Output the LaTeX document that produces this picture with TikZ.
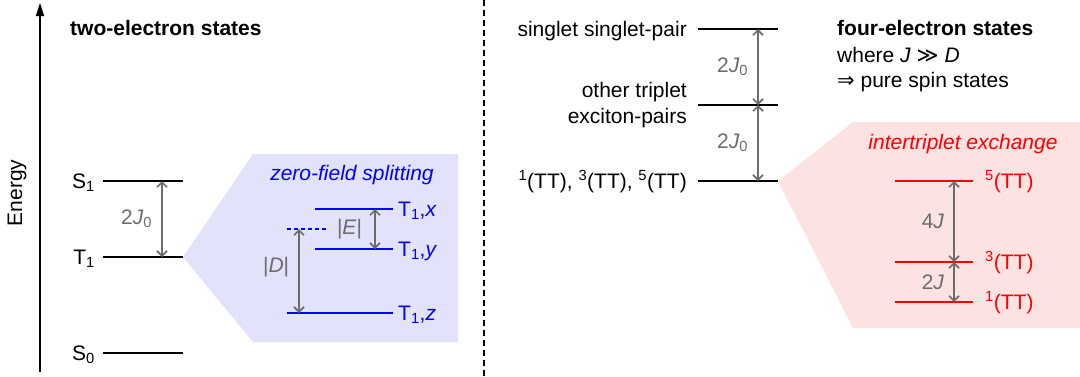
\documentclass[tikz,border=0pt]{standalone}
\usepackage{fontspec}
\setmainfont{Liberation Sans}
\newfontfamily\symfont{DejaVu Sans}
\usetikzlibrary{arrows.meta}
\definecolor{gapgray}{RGB}{108,108,108}
\definecolor{zfsblue}{RGB}{0,0,255}
\definecolor{zfsfill}{RGB}{226,226,250}
\definecolor{itered}{RGB}{255,0,0}
\definecolor{itefill}{RGB}{253,226,226}
\tikzset{
  level/.style={line width=2.9pt},
  gap/.style={draw=gapgray,line width=1.7pt,
    {Straight Barb[length=5pt,width=10pt]}-{Straight Barb[length=5pt,width=10pt]}},
  gaplab/.style={text=gapgray,anchor=east,inner sep=0pt,xshift=-9pt},
  lab/.style={inner sep=0pt,text height=15pt,text depth=0pt},
}

\begin{document}
\begin{tikzpicture}[x=1pt,y=-1pt,font=\fontsize{21}{26}\selectfont]
\useasboundingbox (0,0) rectangle (1080,376);
% shaded splitting regions:
\path[fill=zfsfill] (183,257) -- (253,154) -- (458,154) -- (458,342) -- (253,342) -- cycle;
\path[fill=itefill] (778,181) -- (853,122) -- (1080,122) -- (1080,328) -- (853,328) -- cycle;
% energy axis and divider:
\coordinate (ebot) at (40,372);
\coordinate (etop) at (40,3);
\draw[line width=1.5pt,-{Triangle[length=13pt,width=8pt]}] (ebot) -- (etop);
\node[rotate=90] (energy) at (17,193) {Energy};
\coordinate (divtop) at (484,0);
\coordinate (divbot) at (484,376);
\draw[line width=1.3pt,dash pattern=on 6pt off 4pt] (divtop) -- (divbot);
% two-electron states:
\node[anchor=west,inner sep=0pt,font=\fontsize{21}{26}\selectfont\bfseries] (twotitle) at (70,28) {two-electron states};
\coordinate (s1a) at (103,181); \coordinate (s1b) at (183,181);
\coordinate (t1a) at (103,257); \coordinate (t1b) at (183,257);
\coordinate (s0a) at (103,353); \coordinate (s0b) at (183,353);
\draw[level] (s1a) -- (s1b);
\draw[level] (t1a) -- (t1b);
\draw[level] (s0a) -- (s0b);
\node[lab,anchor=east,xshift=-8pt] (s1lab) at (s1a) {S\textsubscript{1}};
\node[lab,anchor=east,xshift=-8pt] (t1lab) at (t1a) {T\textsubscript{1}};
\node[lab,anchor=east,xshift=-8pt] (s0lab) at (s0a) {S\textsubscript{0}};
\coordinate (g1) at (162,0);
\draw[gap] (s1a -| g1) -- node[gaplab] {2\textit{J}\textsubscript{0}} (t1a -| g1);
% zero-field splitting:
\node[text=zfsblue,inner sep=0pt,font=\fontsize{21}{26}\selectfont\itshape] (zfs) at (352,175) {zero-field splitting};
\coordinate (txa) at (315,209); \coordinate (txb) at (393,209);
\coordinate (tya) at (315,249); \coordinate (tyb) at (393,249);
\coordinate (tza) at (287,313); \coordinate (tzb) at (393,313);
\coordinate (tda) at (287,229); \coordinate (tdb) at (327,229);
\draw[level,zfsblue] (txa) -- (txb);
\draw[level,zfsblue] (tya) -- (tyb);
\draw[level,zfsblue] (tza) -- (tzb);
\draw[line width=1.4pt,zfsblue,dash pattern=on 4pt off 3pt] (tda) -- (tdb);
\node[lab,anchor=west,xshift=5pt,text=zfsblue] (txlab) at (txb) {T\textsubscript{1},\textit{x}};
\node[lab,anchor=west,xshift=5pt,text=zfsblue] (tylab) at (tyb) {T\textsubscript{1},\textit{y}};
\node[lab,anchor=west,xshift=5pt,text=zfsblue] (tzlab) at (tzb) {T\textsubscript{1},\textit{z}};
\coordinate (ge) at (375,0);
\coordinate (gd) at (299,0);
\draw[gap] (txb -| ge) -- node[gaplab,xshift=-3pt] {|\textit{E}|} (tyb -| ge);
\draw[gap] (tda -| gd) -- node[gaplab,yshift=4pt] {|\textit{D}|} (tza -| gd);
% four-electron states:
\node[anchor=west,inner sep=0pt,font=\fontsize{21}{26}\selectfont\bfseries] (fourtitle) at (837,28) {four-electron states};
\node[anchor=west,inner sep=0pt] (where) at (837,55) {where \textit{J} {\symfont ≫} \textit{D}};
\node[anchor=west,inner sep=0pt] (pure) at (837,82) {{\symfont ⇒} pure spin states};
\coordinate (ssa) at (698,29); \coordinate (ssb) at (778,29);
\coordinate (ota) at (698,105); \coordinate (otb) at (778,105);
\coordinate (tta) at (698,181); \coordinate (ttb) at (778,181);
\draw[level] (ssa) -- (ssb);
\draw[level] (ota) -- (otb);
\draw[level] (tta) -- (ttb);
\node[lab,anchor=east,xshift=-11pt] (sslab) at (ssa) {singlet singlet-pair};
\node[anchor=east,align=right,inner sep=0pt,xshift=-11pt] (otlab) at (ota) {other triplet\\exciton-pairs};
\node[lab,anchor=east,xshift=-11pt] (ttlab) at (tta) {\textsuperscript{1}(TT), \textsuperscript{3}(TT), \textsuperscript{5}(TT)};
\coordinate (g2) at (758,0);
\draw[gap] (ssb -| g2) -- node[gaplab] {2\textit{J}\textsubscript{0}} (otb -| g2);
\draw[gap] (otb -| g2) -- node[gaplab] {2\textit{J}\textsubscript{0}} (ttb -| g2);
% intertriplet exchange:
\node[text=itered,inner sep=0pt,font=\fontsize{21}{26}\selectfont\itshape] (ite) at (963,144) {intertriplet exchange};
\coordinate (q5a) at (895,181); \coordinate (q5b) at (973,181);
\coordinate (q3a) at (895,262); \coordinate (q3b) at (973,262);
\coordinate (q1a) at (895,302); \coordinate (q1b) at (973,302);
\draw[level,itered] (q5a) -- (q5b);
\draw[level,itered] (q3a) -- (q3b);
\draw[level,itered] (q1a) -- (q1b);
\node[lab,anchor=west,xshift=12pt,text=itered] (q5lab) at (q5b) {\textsuperscript{5}(TT)};
\node[lab,anchor=west,xshift=12pt,text=itered] (q3lab) at (q3b) {\textsuperscript{3}(TT)};
\node[lab,anchor=west,xshift=12pt,text=itered] (q1lab) at (q1b) {\textsuperscript{1}(TT)};
\coordinate (g3) at (954,0);
\draw[gap] (q5a -| g3) -- node[gaplab] {4\textit{J}} (q3a -| g3);
\draw[gap] (q3a -| g3) -- node[gaplab] {2\textit{J}} (q1a -| g3);
\end{tikzpicture}
\end{document}
